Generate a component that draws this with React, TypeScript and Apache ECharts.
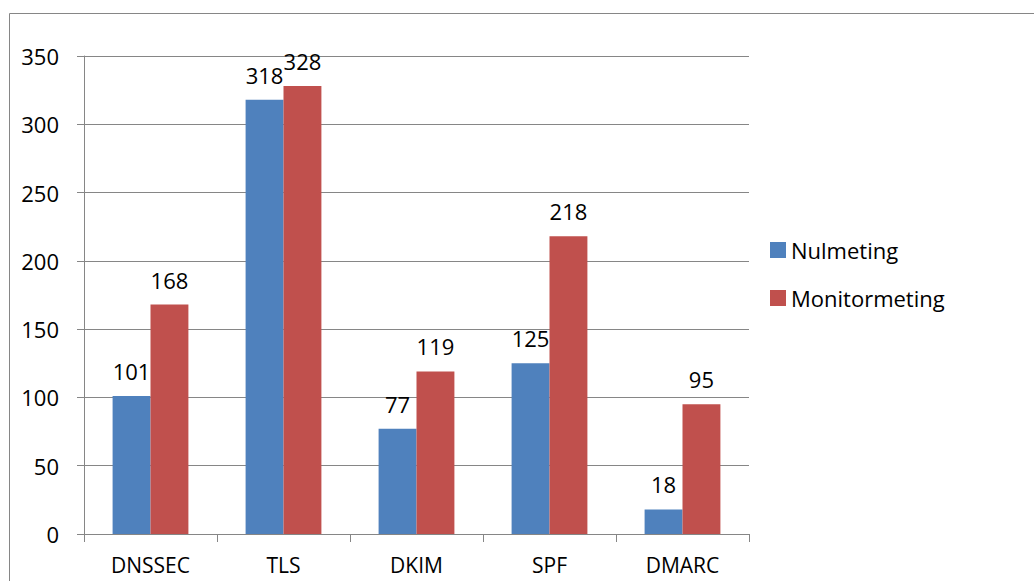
import React, { useEffect, useRef } from "react";
import * as echarts from "echarts";

const categories = ["DNSSEC", "TLS", "DKIM", "SPF", "DMARC"];
const nulmeting = [101, 318, 77, 125, 18];
const monitormeting = [168, 328, 119, 218, 95];
const seriesNames = ["Nulmeting", "Monitormeting"];

const FONT = "'Open Sans'";
const FS = 22;

export default function App() {
  const ref = useRef<HTMLDivElement>(null);
  useEffect(() => {
    if (!ref.current) return;
    const chart = echarts.init(ref.current, null, { renderer: "svg" });
    const labelStyle = {
      show: true,
      position: "top" as const,
      distance: 14,
      color: "#000",
      fontSize: FS,
      fontFamily: FONT,
    };
    chart.setOption({
      animation: false,
      backgroundColor: "#fff",
      textStyle: { fontFamily: FONT },
      graphic: [
        {
          type: "rect",
          shape: { x: 9.5, y: 13.5, width: 1200, height: 800 },
          style: { fill: "none", stroke: "#868686", lineWidth: 1 },
          silent: true,
        },
      ],
      grid: { left: 84, right: 1034 - 749, top: 56, bottom: 581 - 534, containLabel: false },
      legend: {
        orient: "vertical",
        left: 765,
        top: 234,
        itemWidth: 16,
        itemHeight: 16,
        itemGap: 26,
        itemTextGap: 7,
        icon: "rect",
        textStyle: { fontSize: FS, fontFamily: FONT, color: "#000", lineHeight: 22 },
        data: seriesNames,
      },
      xAxis: {
        type: "category",
        data: categories,
        axisLine: { lineStyle: { color: "#868686", width: 1 } },
        axisTick: { show: true, length: 8, lineStyle: { color: "#868686" } },
        axisLabel: {
          color: "#000",
          fontSize: 21,
          fontFamily: FONT,
          margin: 22,
          lineHeight: 18,
        },
      },
      yAxis: {
        type: "value",
        min: 0,
        max: 350,
        interval: 50,
        axisLine: { show: true, lineStyle: { color: "#868686", width: 1 } },
        axisTick: { show: true, length: 7, inside: false, lineStyle: { color: "#868686" } },
        splitLine: { show: true, lineStyle: { color: "#868686", width: 1 } },
        axisLabel: { color: "#000", fontSize: FS, fontFamily: FONT, margin: 25 },
      },
      series: [
        {
          name: seriesNames[0],
          type: "bar",
          data: nulmeting,
          barGap: "0%",
          barCategoryGap: "43%",
          itemStyle: { color: "#4F81BD" },
          label: labelStyle,
        },
        {
          name: seriesNames[1],
          type: "bar",
          data: monitormeting,
          barGap: "0%",
          barCategoryGap: "43%",
          itemStyle: { color: "#C0504D" },
          label: labelStyle,
        },
      ],
    });
    return () => chart.dispose();
  }, []);
  return (
    <div
      ref={ref}
      style={{ position: "absolute", left: 0, top: 0, width: 1034, height: 581 }}
    />
  );
}
